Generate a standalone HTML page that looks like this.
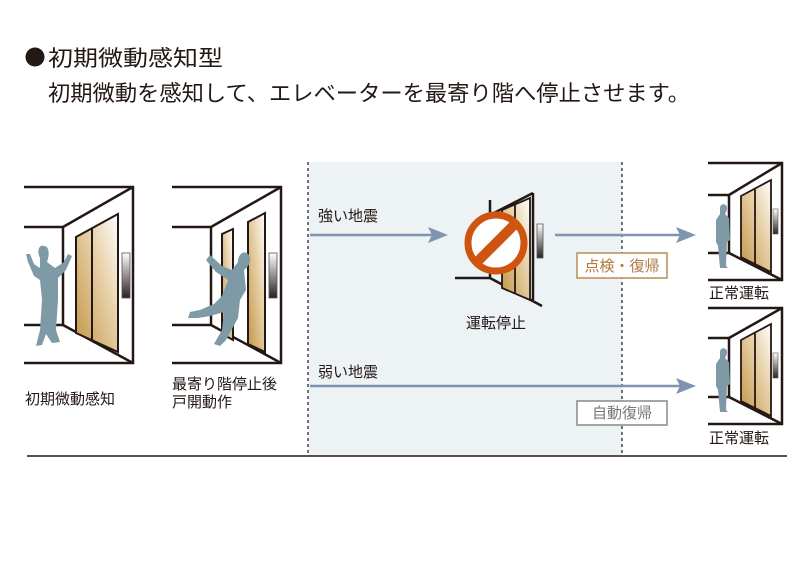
<!DOCTYPE html>
<html><head><meta charset="utf-8"><style>
html,body{margin:0;padding:0;background:#fff;}
svg{display:block;font-family:"Liberation Sans","Noto Sans CJK JP",sans-serif;}
</style></head><body>
<svg width="800" height="562" viewBox="0 0 800 562" xmlns="http://www.w3.org/2000/svg">
<defs>
<linearGradient id="dg" x1="0" y1="1" x2="1" y2="0">
<stop offset="0" stop-color="#c39445"/><stop offset="0.6" stop-color="#e8d2aa"/><stop offset="1" stop-color="#ffffff"/>
</linearGradient>
<linearGradient id="pg" x1="0" y1="0" x2="0" y2="1">
<stop offset="0" stop-color="#ffffff"/><stop offset="1" stop-color="#2a2020"/>
</linearGradient>
</defs>
<circle cx="35" cy="57" r="9.5" fill="#231815"/>
<text x="48" y="66" font-size="22" textLength="175" lengthAdjust="spacingAndGlyphs" fill="#231815">初期微動感知型</text>
<text x="48" y="101" font-size="22" textLength="642" lengthAdjust="spacingAndGlyphs" fill="#231815">初期微動を感知して、エレベーターを最寄り階へ停止させます。</text>

<rect x="308" y="162" width="314" height="294" fill="#edf2f5"/>
<line x1="308" y1="162" x2="308" y2="456" stroke="#231815" stroke-width="1.2" stroke-dasharray="3,3"/>
<line x1="622" y1="162" x2="622" y2="456" stroke="#231815" stroke-width="1.2" stroke-dasharray="3,3"/>
<line x1="27" y1="456" x2="787" y2="456" stroke="#231815" stroke-width="1.5"/>

<!-- panel 1 -->
<g stroke="#231815" stroke-width="2.5" fill="none">
<polyline points="24,187 133,187 133,363 24,363"/>
<polyline points="24,227 63,227 63,325 24,325"/>
<line x1="133" y1="187" x2="63" y2="227"/>
<line x1="63" y1="325" x2="133" y2="363"/>
</g>
<polygon points="76,237 118,214 118,352 76,333" fill="url(#dg)" stroke="#231815" stroke-width="2"/>
<line x1="92" y1="228" x2="92" y2="341" stroke="#231815" stroke-width="2"/>
<rect x="122" y="253" width="8" height="45" fill="url(#pg)" stroke="#555" stroke-width="0.8"/>
<path d="M40,258 C36,250 40,244 44,246 C49,246 50,254 47,262 L55,268 L64,262 L68,254 L72,256 L66,270 L58,278 L58,300 L56,330 L60,342 L52,343 L46,334 L42,345 L36,346 L40,330 L42,300 L40,280 L34,276 L28,262 L26,254 L30,254 L34,264 L40,268 Z" fill="#7f9aa7"/>

<!-- panel 2 -->
<g stroke="#231815" stroke-width="2.5" fill="none">
<polyline points="172,187 281,187 281,363 172,363"/>
<polyline points="172,227 211,227 211,325 172,325"/>
<line x1="281" y1="187" x2="211" y2="227"/>
<line x1="211" y1="325" x2="281" y2="363"/>
</g>
<polygon points="222,234 233,229 233,340 222,334" fill="url(#dg)" stroke="#231815" stroke-width="2"/>
<polygon points="248,222 265,213 265,352 248,344" fill="url(#dg)" stroke="#231815" stroke-width="2"/>
<rect x="269" y="253" width="8" height="45" fill="url(#pg)" stroke="#555" stroke-width="0.8"/>
<path d="M206,260 L210,255 L222,266 L232,270 L238,262 C238,254 244,250 248,254 C252,258 250,266 244,270 L246,290 L240,300 L238,318 L226,340 L220,346 L214,344 L222,330 L224,312 L210,316 L198,318 L188,318 L190,312 L200,310 L214,304 L222,296 L228,280 L216,272 Z" fill="#7f9aa7"/>

<!-- arrows -->
<g stroke="#7f94b0" stroke-width="2.5" fill="#7f94b0">
<line x1="310" y1="235" x2="435" y2="235"/>
<line x1="555" y1="235" x2="683" y2="235"/>
<line x1="310" y1="386" x2="683" y2="386"/>
</g>
<polygon points="428,227 448,235 428,243 432,235" fill="#7f94b0"/>
<polygon points="676,227 696,235 676,243 680,235" fill="#7f94b0"/>
<polygon points="676,378 696,386 676,394 680,386" fill="#7f94b0"/>
<text x="318" y="221" font-size="15" fill="#231815">強い地震</text>
<text x="318" y="377" font-size="15" fill="#231815">弱い地震</text>

<!-- stop -->
<g stroke="#231815" stroke-width="2.5" fill="none">
<line x1="490" y1="200" x2="490" y2="278"/>
<line x1="455" y1="278" x2="490" y2="278"/>
<line x1="490" y1="215" x2="533" y2="193"/>
<line x1="533" y1="193" x2="533" y2="300"/>
<line x1="490" y1="278" x2="542" y2="306"/>
</g>
<polygon points="502,210 530,198 530,300 502,288" fill="url(#dg)" stroke="#231815" stroke-width="1.8"/>
<line x1="515" y1="204" x2="515" y2="294" stroke="#231815" stroke-width="1.8"/>
<rect x="537" y="224" width="6" height="34" fill="url(#pg)" stroke="#555" stroke-width="0.8"/>
<circle cx="496" cy="243" r="28" fill="#fff" stroke="#cf5410" stroke-width="7"/>
<line x1="476" y1="263" x2="516" y2="223" stroke="#cf5410" stroke-width="10"/>
<text x="466" y="328" font-size="15" fill="#231815">運転停止</text>

<rect x="577" y="253" width="90" height="25" fill="#fff" stroke="#b98a55" stroke-width="1.5"/>
<text x="622" y="271" font-size="15" fill="#b07a3f" text-anchor="middle">点検・復帰</text>
<rect x="577" y="401" width="90" height="24" fill="#fff" stroke="#888" stroke-width="1.5"/>
<text x="622" y="418" font-size="15" fill="#777" text-anchor="middle">自動復帰</text>

<!-- right top panel -->
<g stroke="#231815" stroke-width="2.5" fill="none">
<polyline points="708,163 782,163 782,280 708,280"/>
<polyline points="708,195 729,195 729,253 708,253"/>
<line x1="782" y1="163" x2="729" y2="195"/>
<line x1="729" y1="253" x2="782" y2="280"/>
</g>
<polygon points="741,196 771,180 771,272 741,257" fill="url(#dg)" stroke="#231815" stroke-width="1.8"/>
<line x1="755" y1="189" x2="755" y2="265" stroke="#231815" stroke-width="1.8"/>
<rect x="773" y="209" width="5" height="25" fill="url(#pg)" stroke="#555" stroke-width="0.6"/>
<path d="M720,208 C720,203 727,203 727,208 C727,212 725,213 725,214 L729,218 L730,240 L727,242 L726,266 L728,268 L720,268 L718,246 L716,242 L716,220 L720,214 Z" fill="#7f9aa7"/>
<text x="709" y="298" font-size="15" fill="#231815">正常運転</text>

<!-- right bottom panel -->
<g stroke="#231815" stroke-width="2.5" fill="none">
<polyline points="708,308 782,308 782,424 708,424"/>
<polyline points="708,338 729,338 729,397 708,397"/>
<line x1="782" y1="308" x2="729" y2="338"/>
<line x1="729" y1="397" x2="782" y2="424"/>
</g>
<polygon points="741,340 771,324 771,416 741,401" fill="url(#dg)" stroke="#231815" stroke-width="1.8"/>
<line x1="755" y1="333" x2="755" y2="409" stroke="#231815" stroke-width="1.8"/>
<rect x="773" y="353" width="5" height="25" fill="url(#pg)" stroke="#555" stroke-width="0.6"/>
<path d="M720,352 C720,347 727,347 727,352 C727,356 725,357 725,358 L729,362 L730,384 L727,386 L726,410 L728,412 L720,412 L718,390 L716,386 L716,364 L720,358 Z" fill="#7f9aa7"/>
<text x="709" y="443" font-size="15" fill="#231815">正常運転</text>

<text x="25" y="404" font-size="15" fill="#231815">初期微動感知</text>
<text x="172" y="389" font-size="15" fill="#231815">最寄り階停止後</text>
<text x="172" y="407" font-size="15" fill="#231815">戸開動作</text>
</svg>
</body></html>
